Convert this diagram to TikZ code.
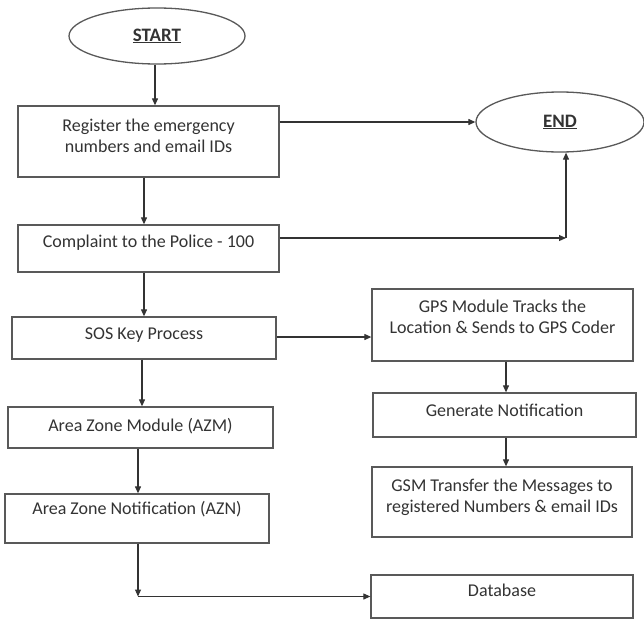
\documentclass[tikz,border=0pt]{standalone}
\usepackage{fontspec}
\setmainfont{Carlito}
\usetikzlibrary{arrows.meta,shapes.geometric}
\newcommand{\lifttext}[2]{\raisebox{#1pt}[0pt][0pt]{\begin{tabular}{@{}c@{}}#2\end{tabular}}}
\begin{document}
\begin{tikzpicture}[x=1pt,y=-1pt,
  box/.style={draw=black!65, line width=1.3pt, rectangle, inner sep=0pt,
    font=\fontsize{18}{21}\selectfont, text=black!80},
  oval/.style={draw=black!65, line width=1.3pt, ellipse, inner sep=0pt,
    font=\fontsize{19}{22}\selectfont\bfseries, text=black!80},
  arr/.style={draw=black!80, line width=1.1pt, -{Triangle[length=7pt,width=6pt]}}]
\fill[white] (0,0) rectangle (644,621);
\useasboundingbox (0,0) rectangle (644,621);

% terminals
\node[oval, minimum width=176pt, minimum height=56pt] (start) at (157,36) {\underline{START}};
\node[oval, minimum width=168pt, minimum height=60pt] (end) at (560,122) {\underline{END}};

% left column
\node[box, minimum width=261pt, minimum height=71pt] (reg) at (148.5,141.5)
  {\lifttext{-0.5}{Register the emergency\\numbers and email IDs}};
\node[box, minimum width=261pt, minimum height=47pt] (comp) at (148.5,248.5)
  {\lifttext{1}{Complaint to the Police - 100}};
\node[box, minimum width=264pt, minimum height=42pt] (sos) at (144,338)
  {\lifttext{-1.5}{SOS Key Process}};
\node[box, minimum width=265pt, minimum height=41pt] (azm) at (140.5,427.5)
  {\lifttext{-4}{Area Zone Module (AZM)}};
\node[box, minimum width=264pt, minimum height=49pt] (azn) at (137,518.5)
  {\lifttext{4}{Area Zone Notification (AZN)}};

% right column
\node[box, minimum width=261pt, minimum height=72pt] (gps) at (502.5,325)
  {\lifttext{1.5}{GPS Module Tracks the\\Location \& Sends to GPS Coder}};
\node[box, minimum width=263pt, minimum height=44pt] (gen) at (504.5,415)
  {\lifttext{-1.5}{Generate Notification}};
\node[box, minimum width=260pt, minimum height=70pt] (gsm) at (502,502)
  {\lifttext{-0.5}{GSM Transfer the Messages to\\registered Numbers \& email IDs}};
\node[box, minimum width=262pt, minimum height=43pt] (db) at (502,596.5)
  {\lifttext{0}{Database}};

% helper coordinates
\coordinate (xs) at (155,0);
\coordinate (xl1) at (144,0);
\coordinate (xl2) at (142,0);
\coordinate (xl3) at (138,0);
\coordinate (xr) at (506,0);
\coordinate (ys) at (0,337);
\coordinate (cc) at (566,238);

% connectors
\draw[arr] (xs |- start.south) -- (xs |- reg.north);
\draw[arr] (reg.east |- end.west) -- (end.west);
\draw[arr] (xl1 |- reg.south) -- (xl1 |- comp.north);
\draw[arr] (comp.east |- cc) -- (cc);
\draw[arr] (cc) -- (cc |- end.south);
\draw[arr] (xl1 |- comp.south) -- (xl1 |- sos.north);
\draw[arr] (sos.east |- ys) -- (gps.west |- ys);
\draw[arr] (xl2 |- sos.south) -- (xl2 |- azm.north);
\draw[arr] (xl3 |- azm.south) -- (xl3 |- azn.north);
\draw[arr] (xl3 |- azn.south) -- (xl3 |- db.west);
\draw[arr] (xl3 |- db.west) -- (db.west);
\draw[arr] (xr |- gps.south) -- (xr |- gen.north);
\draw[arr] (xr |- gen.south) -- (xr |- gsm.north);
\end{tikzpicture}
\end{document}
